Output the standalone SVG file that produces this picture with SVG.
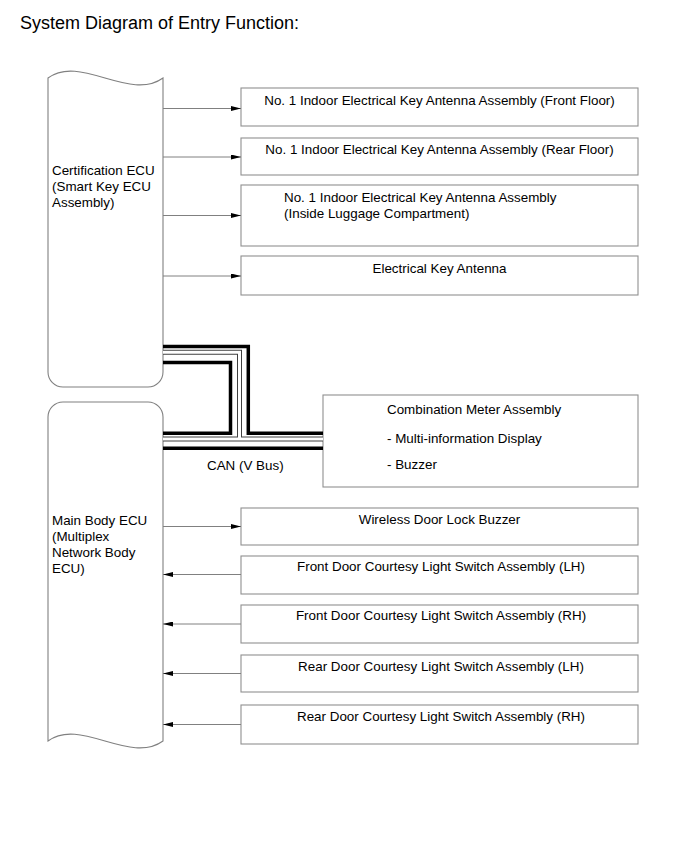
<svg xmlns="http://www.w3.org/2000/svg" width="690" height="855" viewBox="0 0 690 855">
<style>
text{font-family:"Liberation Sans",Arial,sans-serif;font-size:13.4px;fill:#000}
.title{font-size:18px}
.box{fill:#fff;stroke:#909090;stroke-width:1.1}
.ecu{fill:#fff;stroke:#808080;stroke-width:1.1}
.c{text-anchor:middle}
.wire{stroke:#808080;stroke-width:1;fill:none}
.thick{stroke:#000;stroke-width:3.5;fill:none;stroke-linejoin:miter}
.hout{stroke:#404040;stroke-width:5;fill:none}
.hin{stroke:#fff;stroke-width:3;fill:none}
</style>
<defs>
<marker id="ah" viewBox="0 0 10 5" refX="10" refY="2.5" markerWidth="10" markerHeight="5" markerUnits="userSpaceOnUse" orient="auto">
<path d="M0,0 L10,2.5 L0,5 Z" fill="#000"/>
</marker>
</defs>
<rect width="690" height="855" fill="#fff"/>
<text class="title" x="20" y="29">System Diagram of Entry Function:</text>

<g id="cert-ecu">
<path class="ecu" d="M48,78 C80,54 130,102 163,78 V372 A15,15 0 0 1 148,387 H63 A15,15 0 0 1 48,372 Z"/>
<text x="52" y="175">Certification ECU</text>
<text x="52" y="191">(Smart Key ECU</text>
<text x="52" y="207">Assembly)</text>
</g>

<g id="main-body-ecu">
<path class="ecu" d="M63,402 H148 A15,15 0 0 1 163,417 V741 C130,765 80,717 48,741 V417 A15,15 0 0 1 63,402 Z"/>
<text x="52" y="525">Main Body ECU</text>
<text x="52" y="541">(Multiplex</text>
<text x="52" y="557">Network Body</text>
<text x="52" y="573">ECU)</text>
</g>

<g id="ant-front">
<rect class="box" x="241" y="88" width="397" height="38"/>
<text class="c" x="439.5" y="105">No. 1 Indoor Electrical Key Antenna Assembly (Front Floor)</text>
</g>
<g id="ant-rear">
<rect class="box" x="241" y="138" width="397" height="37"/>
<text class="c" x="439.5" y="154">No. 1 Indoor Electrical Key Antenna Assembly (Rear Floor)</text>
</g>
<g id="ant-luggage">
<rect class="box" x="241" y="185" width="397" height="61"/>
<text x="284" y="202">No. 1 Indoor Electrical Key Antenna Assembly</text>
<text x="284" y="218">(Inside Luggage Compartment)</text>
</g>
<g id="ant-key">
<rect class="box" x="241" y="256" width="397" height="39"/>
<text class="c" x="439.5" y="273">Electrical Key Antenna</text>
</g>
<g id="combination-meter">
<rect class="box" x="323" y="395" width="315" height="92"/>
<text x="387" y="414">Combination Meter Assembly</text>
<text x="387" y="443">- Multi-information Display</text>
<text x="387" y="469">- Buzzer</text>
</g>
<g id="wireless-buzzer">
<rect class="box" x="241" y="508" width="397" height="37"/>
<text class="c" x="439.5" y="524">Wireless Door Lock Buzzer</text>
</g>
<g id="front-lh">
<rect class="box" x="241" y="556" width="397" height="38"/>
<text class="c" x="441" y="571">Front Door Courtesy Light Switch Assembly (LH)</text>
</g>
<g id="front-rh">
<rect class="box" x="241" y="605" width="397" height="38"/>
<text class="c" x="441" y="620">Front Door Courtesy Light Switch Assembly (RH)</text>
</g>
<g id="rear-lh">
<rect class="box" x="241" y="655" width="397" height="37"/>
<text class="c" x="441" y="671">Rear Door Courtesy Light Switch Assembly (LH)</text>
</g>
<g id="rear-rh">
<rect class="box" x="241" y="705" width="397" height="39"/>
<text class="c" x="441" y="721">Rear Door Courtesy Light Switch Assembly (RH)</text>
</g>

<g id="connectors">
<path class="wire" d="M163,108.5 H241" marker-end="url(#ah)"/>
<path class="wire" d="M163,157 H241" marker-end="url(#ah)"/>
<path class="wire" d="M163,215.5 H241" marker-end="url(#ah)"/>
<path class="wire" d="M163,276 H241" marker-end="url(#ah)"/>
<path class="wire" d="M163,526.5 H241" marker-end="url(#ah)"/>
<path class="wire" d="M241,574.5 H163" marker-end="url(#ah)"/>
<path class="wire" d="M241,624 H163" marker-end="url(#ah)"/>
<path class="wire" d="M241,673.5 H163" marker-end="url(#ah)"/>
<path class="wire" d="M241,724.5 H163" marker-end="url(#ah)"/>
<g id="can-bus">
<path class="hout" d="M163,352.3 H239.5 V439"/>
<path class="hout" d="M163,439 H323"/>
<path class="hin" d="M163,352.3 H239.5 V439"/>
<path class="hin" d="M163,439 H323"/>
<path class="thick" d="M163,346.5 H248.3 V433.3 H323"/>
<path class="thick" d="M163,362.5 H230.5 V433.3 H163"/>
<path class="thick" d="M163,448.3 H323"/>
</g>
<text x="207" y="470">CAN (V Bus)</text>
</g>
</svg>
